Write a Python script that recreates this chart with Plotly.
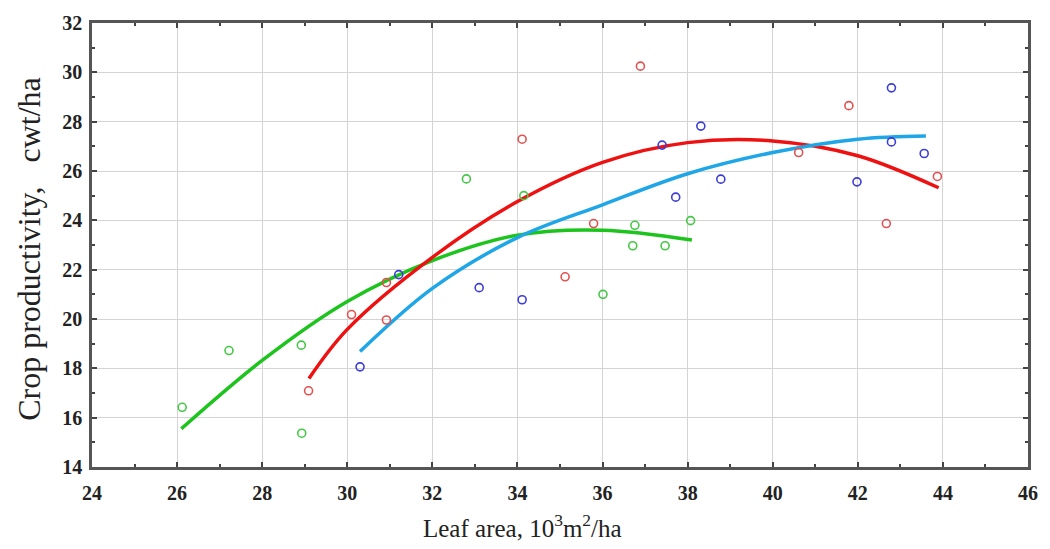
import plotly.graph_objects as go

# Scatter data
green_x = [26.12, 27.22, 28.92, 28.93, 32.80, 34.15, 36.76, 38.07, 36.71, 37.47, 36.01]
green_y = [16.42, 18.72, 18.94, 15.37, 25.68, 25.00, 23.80, 23.99, 22.97, 22.97, 21.00]

red_x = [29.09, 30.10, 30.92, 30.92, 34.11, 36.89, 35.79, 35.12, 40.61, 41.79, 42.67, 43.87]
red_y = [17.09, 20.18, 19.96, 21.48, 27.29, 30.25, 23.87, 21.71, 26.75, 28.65, 23.87, 25.78]

blue_x = [30.30, 31.21, 33.10, 34.11, 37.40, 38.31, 37.72, 38.78, 42.79, 42.79, 41.98, 43.56]
blue_y = [18.06, 21.80, 21.27, 20.78, 27.05, 27.82, 24.94, 25.67, 29.37, 27.18, 25.56, 26.71]

# Fitted curves
green_fit_x = [26.1, 28.0, 30.0, 32.0, 34.0, 36.0, 38.1]
green_fit_y = [15.55, 18.32, 20.71, 22.37, 23.40, 23.60, 23.20]

red_fit_x = [29.1, 30.0, 32.0, 34.0, 36.0, 38.0, 40.0, 42.0, 43.9]
red_fit_y = [17.59, 19.58, 22.50, 24.76, 26.35, 27.15, 27.22, 26.62, 25.32]

blue_fit_x = [30.3, 32.0, 34.0, 36.0, 38.0, 40.0, 42.0, 43.6]
blue_fit_y = [18.68, 21.24, 23.30, 24.63, 25.89, 26.75, 27.29, 27.42]

x_ticks = [24, 26, 28, 30, 32, 34, 36, 38, 40, 42, 44, 46]
y_ticks = [14, 16, 18, 20, 22, 24, 26, 28, 30, 32]

fig = go.Figure()

for fx, fy, col in [(green_fit_x, green_fit_y, "#1ec41e"),
                    (red_fit_x, red_fit_y, "#ee1111"),
                    (blue_fit_x, blue_fit_y, "#1ea6e6")]:
    fig.add_trace(go.Scatter(x=fx, y=fy, mode="lines", line=dict(color=col, width=3.5, shape="spline"),
                             showlegend=False, hoverinfo="skip"))

for px, py, col in [(green_x, green_y, "#45c845"),
                    (red_x, red_y, "#e25050"),
                    (blue_x, blue_y, "#3c3cd6")]:
    fig.add_trace(go.Scatter(x=px, y=py, mode="markers",
                             marker=dict(symbol="circle-open", size=8, color=col, line=dict(width=1.6, color=col)),
                             showlegend=False))

serif = "Liberation Serif, Times New Roman, serif"
tickfont = dict(family=serif, size=20, color="#222222")

axis_common = dict(
    showline=True, linecolor="#555555", linewidth=2.5, mirror="ticks",
    ticks="inside", ticklen=5, tickcolor="#444444", tickwidth=1.5,
    showgrid=True, gridcolor="#d4d4d4", gridwidth=1.3, zeroline=False,
    tickfont=tickfont,
    minor=dict(ticks="inside", ticklen=3, tickcolor="#444444", dtick=1, showgrid=False),
)

fig.update_xaxes(range=[24, 46], tickvals=x_ticks, ticktext=[f"<b>{v}</b>" for v in x_ticks],
                 ticklabelstandoff=6, **axis_common)
fig.update_yaxes(range=[14, 32], tickvals=y_ticks, ticktext=[f"<b>{v}</b>" for v in y_ticks],
                 ticklabelstandoff=3, **axis_common)

fig.add_annotation(text="Leaf area, 10<sup>3</sup>m<sup>2</sup>/ha", xref="paper", yref="paper",
                   x=(526 - 92.5) / (1035 - 92.5), y=-(527 - 467) / 452, xanchor="center", yanchor="middle",
                   showarrow=False, font=dict(family=serif, size=25, color="#222222"))
fig.add_annotation(text="Crop productivity,&nbsp;&nbsp;&nbsp;cwt/ha", xref="paper", yref="paper",
                   x=(29 - 92.5) / (1035 - 92.5), y=(467 - 245) / 452, xanchor="center", yanchor="middle",
                   textangle=-90,
                   showarrow=False, font=dict(family=serif, size=32, color="#222222"))

fig.update_layout(
    width=1050, height=549,
    margin=dict(l=92, r=15, t=15, b=82),
    plot_bgcolor="white", paper_bgcolor="white",
)

fig.write_html("out.html")
